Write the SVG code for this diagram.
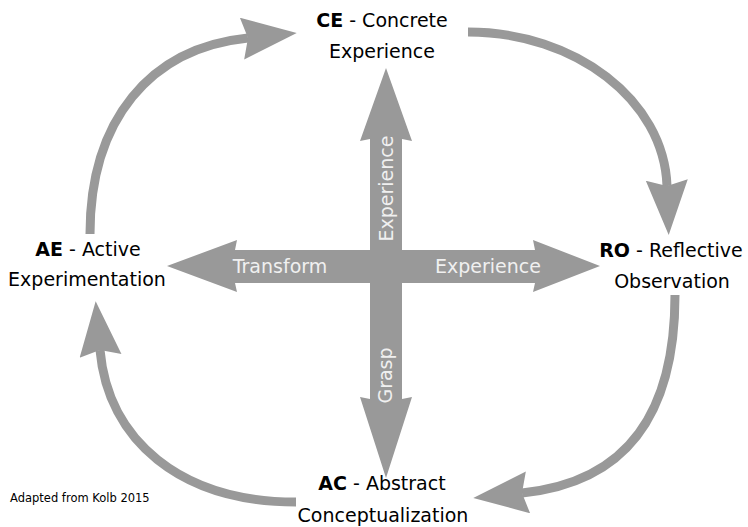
<svg xmlns="http://www.w3.org/2000/svg" width="748" height="527" viewBox="0 0 748 527">
  <style>
    .lbl { font-family: "DejaVu Sans", Verdana, sans-serif; font-size: 19px; fill: #000; text-anchor: middle; }
    .lbl .b { font-weight: bold; }
    .inner { font-family: "DejaVu Sans", Verdana, sans-serif; font-size: 19px; fill: #f0f0f0; text-anchor: middle; }
    .note { font-family: "DejaVu Sans", Verdana, sans-serif; font-size: 11.5px; fill: #000; }
    .cycle { fill: none; stroke: #999999; stroke-width: 9; }
    .cross { fill: #999999; }
  </style>
  <defs>
    <marker id="head" markerUnits="userSpaceOnUse" markerWidth="60" markerHeight="44" refX="6" refY="21" orient="auto">
      <path d="M0,0 L55,21 L0,42 L6,21 Z" fill="#999999"/>
    </marker>
  </defs>

  <rect width="748" height="527" fill="#ffffff"/>

  <!-- cycle connectors between the four stages -->
  <g id="connectors">
    <path class="cycle" d="M 90 234 C 90 120, 150 48, 248 38" marker-end="url(#head)"/>
    <path class="cycle" d="M 468 32 C 575 32, 664 100, 667 186" marker-end="url(#head)"/>
    <path class="cycle" d="M 675 295 C 675 410, 630 482, 522 493" marker-end="url(#head)"/>
    <path class="cycle" d="M 296 502 C 180 502, 108 440, 100 350" marker-end="url(#head)"/>
  </g>

  <!-- central cross of double arrows -->
  <g id="cross">
    <path class="cross" d="M 386 68 L 412 141 L 402 139 L 402 399 L 412 397 L 386 478 L 360 397 L 370 399 L 370 139 L 360 141 Z"/>
    <path class="cross" d="M 167 266 L 237 240 L 235 250 L 535 250 L 533 240 L 600 266 L 533 292 L 535 283 L 235 283 L 237 292 Z"/>
    <text class="inner" transform="translate(393,188.5) rotate(-90)">Experience</text>
    <text class="inner" transform="translate(392,375.5) rotate(-90)">Grasp</text>
    <text class="inner" x="280" y="273">Transform</text>
    <text class="inner" x="488" y="273">Experience</text>
  </g>

  <g id="ce">
    <text class="lbl" x="382" y="27"><tspan class="b">CE</tspan> - Concrete</text>
    <text class="lbl" x="382" y="58">Experience</text>
  </g>
  <g id="ro">
    <text class="lbl" x="671" y="257"><tspan class="b">RO</tspan> - Reflective</text>
    <text class="lbl" x="672" y="288">Observation</text>
  </g>
  <g id="ac">
    <text class="lbl" x="382" y="490"><tspan class="b">AC</tspan> - Abstract</text>
    <text class="lbl" x="383" y="522">Conceptualization</text>
  </g>
  <g id="ae">
    <text class="lbl" x="88" y="256"><tspan class="b">AE</tspan> - Active</text>
    <text class="lbl" x="87" y="286">Experimentation</text>
  </g>

  <text class="note" x="10" y="502">Adapted from Kolb 2015</text>
</svg>
